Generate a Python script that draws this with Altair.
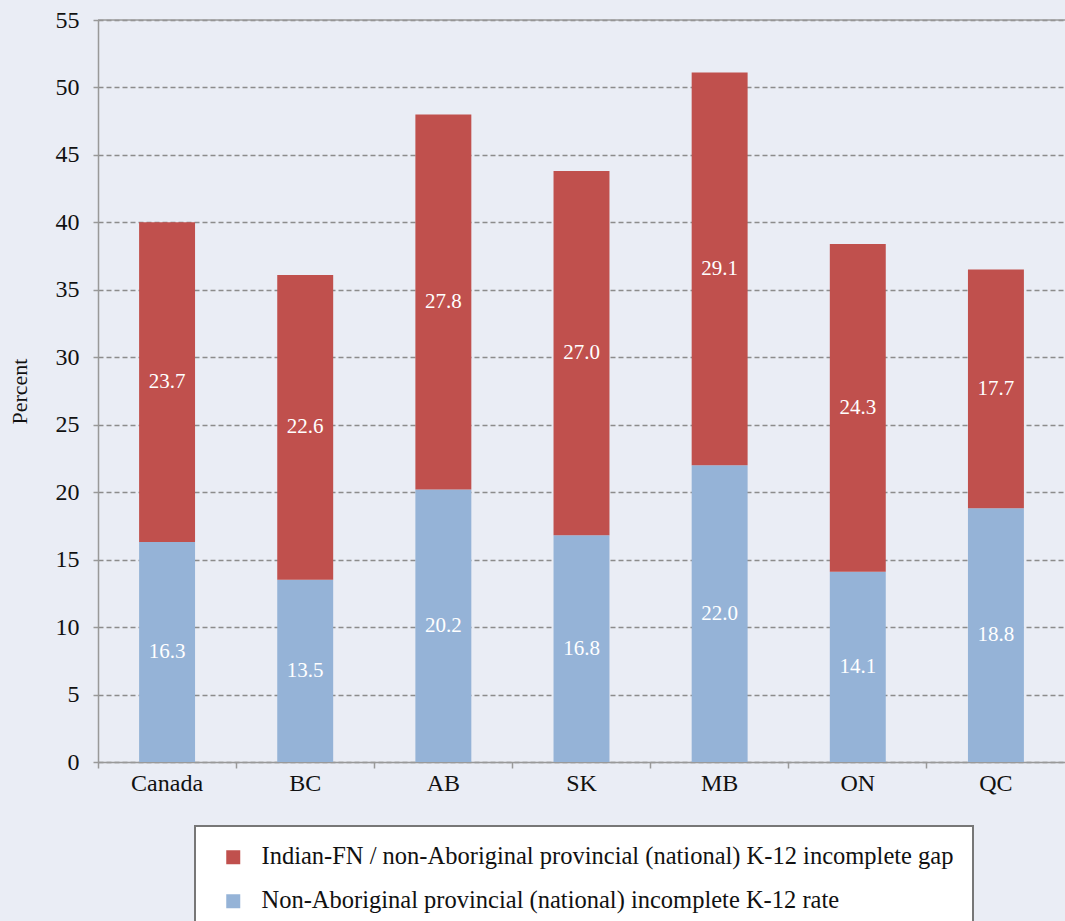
import altair as alt
import pandas as pd

regions = ["Canada", "BC", "AB", "SK", "MB", "ON", "QC"]
rate = [16.3, 13.5, 20.2, 16.8, 22.0, 14.1, 18.8]
gap = [23.7, 22.6, 27.8, 27.0, 29.1, 24.3, 17.7]
series = [
    "Indian-FN / non-Aboriginal provincial (national) K-12 incomplete gap",
    "Non-Aboriginal provincial (national) incomplete K-12 rate",
]
colors = ["#C0504D", "#95B3D7"]
y_ticks = [0, 5, 10, 15, 20, 25, 30, 35, 40, 45, 50, 55]

rows = []
for r, a, g in zip(regions, rate, gap):
    rows.append({"region": r, "series": series[1], "value": a, "ord": 0})
    rows.append({"region": r, "series": series[0], "value": g, "ord": 1})
df = pd.DataFrame(rows)

FONT = "Liberation Serif, DejaVu Serif, Times New Roman, serif"

base = alt.Chart(df).transform_stack(
    stack="value", as_=["y0", "y1"], groupby=["region"], sort=[alt.SortField("ord")]
).transform_calculate(mid="(datum.y0 + datum.y1) / 2")

xscale = alt.Scale(type="band", domain=regions, paddingInner=0, paddingOuter=0)

xenc = alt.X(
    "region:N",
    sort=regions,
    title=None,
    scale=xscale,
    axis=alt.Axis(
        bandPosition=0,
        labelAngle=0,
        labelFont=FONT,
        labelFontSize=24,
        labelColor="#111",
        labelPadding=3,
        tickSize=6,
        tickColor="#999",
        tickWidth=1.5,
        domainColor="#999",
        domainWidth=1.5,
        grid=False,
    ),
)

bars = base.mark_bar(width=alt.RelativeBandSize(0.405)).encode(
    x=xenc,
    y=alt.Y(
        "y0:Q",
        title="Percent",
        scale=alt.Scale(domain=[0, 55], nice=False),
        axis=alt.Axis(
            values=y_ticks,
            labelFont=FONT,
            labelFontSize=24,
            labelColor="#111",
            labelPadding=14,
            tickSize=5,
            tickColor="#999",
            tickWidth=1.5,
            domainColor="#999",
            domainWidth=1.5,
            gridColor="#8c8c8c",
            gridDash=[5, 3],
            gridWidth=1.5,
            titleFont=FONT,
            titleFontSize=22,
            titleFontWeight="normal",
            titleColor="#111",
            titlePadding=24,
        ),
    ),
    y2="y1:Q",
    color=alt.Color(
        "series:N",
        scale=alt.Scale(domain=series, range=colors),
        legend=alt.Legend(
            title=None,
            orient="none",
            legendX=97,
            legendY=806,
            fillColor="white",
            strokeColor="#777",
            padding=19,
            symbolOffset=7,
            symbolType="square",
            symbolSize=196,
            symbolStrokeWidth=0,
            labelFont=FONT,
            labelFontSize=24.5,
            labelColor="#111",
            labelOffset=16,
            rowPadding=19,
            labelLimit=900,
        ),
    ),
    order=alt.Order("ord:Q"),
)

labels = base.mark_text(color="white", fontSize=21, font=FONT).encode(
    x=alt.X("region:N", sort=regions, scale=xscale),
    y=alt.Y("mid:Q"),
    text=alt.Text("value:Q", format=".1f"),
)

top = alt.Chart(pd.DataFrame({"v": [55]})).mark_rule(color="#999", strokeWidth=1.5).encode(
    y=alt.Y("v:Q")
)

chart = (
    alt.layer(bars, labels, top)
    .properties(
        width=967,
        height=742,
        autosize=alt.AutoSizeParams(type="none"),
        padding={"left": 98, "top": 20, "right": 0, "bottom": 159},
        background="#EAEDF5",
    )
    .configure(font=FONT)
    .configure_legend(strokeWidth=2)
    .configure_view(stroke=None)
)

chart.save("out.html", embed_options={"renderer": "svg", "actions": False})
